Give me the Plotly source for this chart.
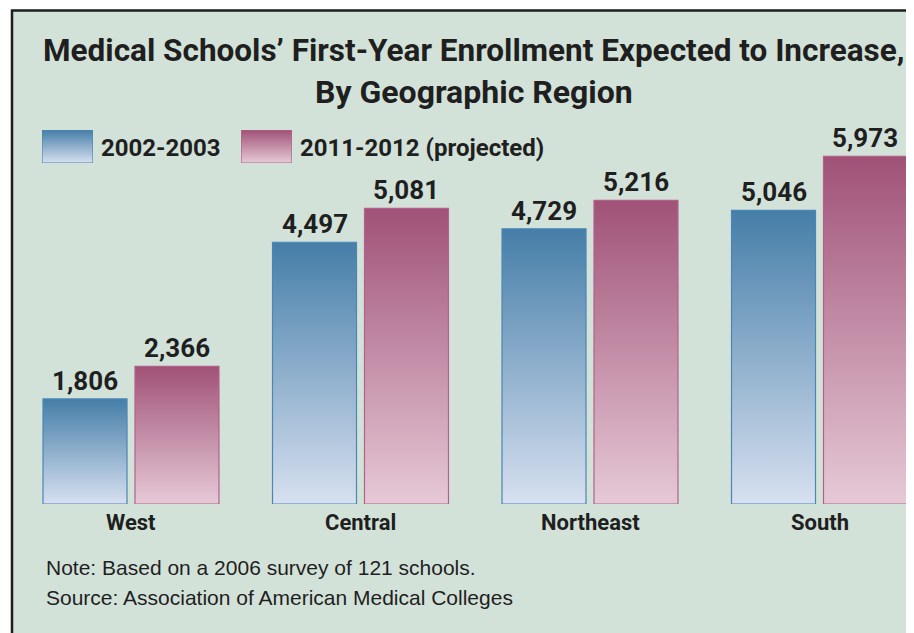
import plotly.graph_objects as go

regions = ["West", "Central", "Northeast", "South"]
enroll_2002 = [1806, 4497, 4729, 5046]
enroll_2011 = [2366, 5081, 5216, 5973]
series_names = ["2002-2003", "2011-2012 (projected)"]

# page shows the figure at an 8px offset, so figure is 8px smaller and coords shift by 8
OFF = 8
W, H = 914 - OFF, 633 - OFF
PANEL = "#d3e2d9"
BLUE_TOP, BLUE_BOT, BLUE_LINE = "#457ea8", "#d7e0f0", "#4a86b6"
PINK_TOP, PINK_BOT, PINK_LINE = "#a05277", "#e6c9d6", "#b2628a"
HEAD_FONT = "Roboto, Liberation Sans, Arial, sans-serif"
BODY_FONT = "Liberation Sans, Arial, sans-serif"
INK = "#1f1f1f"

OFFSET = 0.2004   # half distance between paired bars (group units)
HALF_W = 0.183    # half bar width (group units)
PX_PER_UNIT = 0.0582
PX_GROUP = 229.5
FIRST_GROUP_PX = 131
plot_bottom_px, plot_top_px = 504, 150
y_max = (plot_bottom_px - plot_top_px) / PX_PER_UNIT


def px2x(px):
    return (px - OFF) / W


def px2y(py):
    return 1 - (py - OFF) / H


fig = go.Figure()


def bar_trace(xc, val, top, bot, line, xaxis="x", yaxis="y"):
    return go.Scatter(
        x=[xc - HALF_W, xc + HALF_W, xc + HALF_W, xc - HALF_W, xc - HALF_W],
        y=[0, 0, val, val, 0],
        mode="lines", fill="toself",
        fillgradient=dict(type="vertical", colorscale=[[0, bot], [1, top]]),
        line=dict(color=line, width=1.2),
        hoverinfo="skip", showlegend=False, xaxis=xaxis, yaxis=yaxis,
    )


for i, reg in enumerate(regions):
    fig.add_trace(bar_trace(i - OFFSET, enroll_2002[i], BLUE_TOP, BLUE_BOT, BLUE_LINE))
    fig.add_trace(bar_trace(i + OFFSET, enroll_2011[i], PINK_TOP, PINK_BOT, PINK_LINE))
    for xc, v in ((i - OFFSET, enroll_2002[i]), (i + OFFSET, enroll_2011[i])):
        fig.add_annotation(x=xc, y=v, text=f"<b>{v:,}</b>", showarrow=False, yanchor="bottom",
                           yshift=1, font=dict(family=HEAD_FONT, size=26, color=INK))
    fig.add_annotation(x=i, y=0, text=f"<b>{reg}</b>", showarrow=False, yanchor="top",
                       yshift=-4, font=dict(family=HEAD_FONT, size=22, color=INK))

# legend swatches on their own tiny axes
swatches = [(42, 93, BLUE_TOP, BLUE_BOT, BLUE_LINE), (241, 292, PINK_TOP, PINK_BOT, PINK_LINE)]
for k, (x0, x1, top, bot, line) in enumerate(swatches):
    ax = k + 2
    fig.add_trace(go.Scatter(
        x=[0, 1, 1, 0, 0], y=[0, 0, 1, 1, 0], mode="lines", fill="toself",
        fillgradient=dict(type="vertical", colorscale=[[0, bot], [1, top]]),
        line=dict(color=line, width=1.2), hoverinfo="skip", showlegend=False,
        xaxis=f"x{ax}", yaxis=f"y{ax}"))
    fig.update_layout(**{
        f"xaxis{ax}": dict(domain=[px2x(x0), px2x(x1)], range=[0, 1], visible=False, fixedrange=True),
        f"yaxis{ax}": dict(domain=[px2y(163), px2y(130)], range=[0, 1], visible=False, fixedrange=True,
                           anchor=f"x{ax}"),
    })
    fig.add_annotation(xref="paper", yref="paper", x=px2x(x1 + 6), y=px2y(147.5),
                       text=f"<b>{series_names[k]}</b>", showarrow=False, xanchor="left",
                       yanchor="middle", font=dict(family=HEAD_FONT, size=24, color=INK))

# title
fig.add_annotation(xref="paper", yref="paper", x=px2x(474), y=px2y(51),
                   text="<b>Medical Schools’ First-Year Enrollment Expected to Increase,</b>",
                   showarrow=False, xanchor="center", yanchor="middle",
                   font=dict(family=HEAD_FONT, size=31.5, color=INK))
fig.add_annotation(xref="paper", yref="paper", x=px2x(474), y=px2y(92),
                   text="<b>By Geographic Region</b>",
                   showarrow=False, xanchor="center", yanchor="middle",
                   font=dict(family=HEAD_FONT, size=32, color=INK))

# notes
fig.add_annotation(xref="paper", yref="paper", x=px2x(44), y=px2y(567),
                   text="Note: Based on a 2006 survey of 121 schools.", showarrow=False,
                   xanchor="left", yanchor="middle", font=dict(family=BODY_FONT, size=21, color=INK))
fig.add_annotation(xref="paper", yref="paper", x=px2x(44), y=px2y(597),
                   text="Source: Association of American Medical Colleges", showarrow=False,
                   xanchor="left", yanchor="middle", font=dict(family=BODY_FONT, size=21, color=INK))

# panel background with dark left/top border
fig.add_shape(type="rect", xref="paper", yref="paper", x0=px2x(12), x1=px2x(940),
              y0=px2y(660), y1=px2y(10.5), fillcolor=PANEL,
              line=dict(color="#1e1e1e", width=2.5), layer="below")

fig.update_layout(
    width=W, height=H, margin=dict(l=0, r=0, t=0, b=0),
    paper_bgcolor="white", plot_bgcolor="rgba(0,0,0,0)",
    xaxis=dict(domain=[0, 1],
               range=[-(FIRST_GROUP_PX - OFF) / PX_GROUP, (W - (FIRST_GROUP_PX - OFF)) / PX_GROUP],
               visible=False, fixedrange=True),
    yaxis=dict(domain=[px2y(plot_bottom_px), px2y(plot_top_px)], range=[0, y_max], visible=False,
               fixedrange=True),
    showlegend=False,
)

fig.write_html("out.html")
